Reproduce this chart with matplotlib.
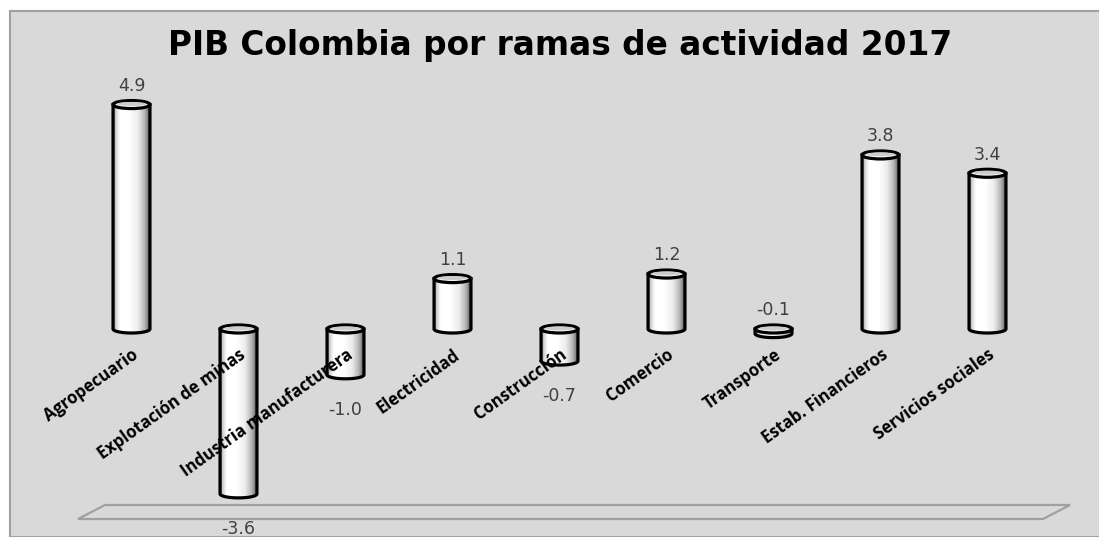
import numpy as np
import matplotlib
matplotlib.use("Agg")
import matplotlib.pyplot as plt
from matplotlib.path import Path
from matplotlib.patches import PathPatch, Ellipse, Rectangle, Polygon
from matplotlib.colors import LinearSegmentedColormap

# ---- data ----
categories = ["Agropecuario", "Explotación de minas", "Industria manufacturera",
              "Electricidad", "Construcción", "Comercio", "Transporte",
              "Estab. Financieros", "Servicios sociales"]
values = [4.9, -3.6, -1.0, 1.1, -0.7, 1.2, -0.1, 3.8, 3.4]
title = "PIB Colombia por ramas de actividad 2017"

# ---- layout (pixels) ----
W, H = 1099, 537
fig = plt.figure(figsize=(W / 100, H / 100), dpi=100)
fig.patch.set_facecolor("white")

# gray chart panel
panel = Rectangle((10 / W, 0), 1.2, (H - 11) / H, transform=fig.transFigure,
                  facecolor="#d9d9d9", edgecolor="#a0a0a0", lw=1.5, zorder=-3)
fig.patches.append(panel)

# floor parallelogram
floor_px = [(78, 519), (105, 505), (1070, 505), (1043, 519)]
floor = Polygon([(x / W, 1 - y / H) for x, y in floor_px], closed=True,
                transform=fig.transFigure, facecolor="#d9d9d9",
                edgecolor="#a0a0a0", lw=1.6, zorder=-2)
fig.patches.append(floor)

ax = fig.add_axes([0, 0, 1, 1])
ax.set_facecolor("none")
x0_px, step_px = 131.5, 107.0
zero_px, unit_px = 329, 45.8
for s in ax.spines.values():
    s.set_visible(False)
ax.spines["bottom"].set_position(("data", 0))
ax.set_yticks([])

cmap = LinearSegmentedColormap.from_list(
    "cyl", [(0, "#6a6a6a"), (0.07, "#cfcfcf"), (0.18, "#ffffff"), (0.45, "#ffffff"),
            (0.68, "#ececec"), (0.86, "#b5b5b5"), (1.0, "#5e5e5e")])
grad = np.linspace(0, 1, 256).reshape(1, -1)

bw = 0.345
eh = 0.175
for i, v in enumerate(values):
    top = max(v, 0)
    bot = min(v, 0)
    xl, xr = i - bw / 2, i + bw / 2
    t = np.linspace(np.pi, 2 * np.pi, 40)
    arc = np.column_stack([i + bw / 2 * np.cos(t), bot + eh / 2 * np.sin(t)])
    verts = np.vstack([[xl, top], [xl, bot], arc, [xr, bot], [xr, top], [xl, top]])
    codes = [Path.MOVETO] + [Path.LINETO] * (len(verts) - 2) + [Path.CLOSEPOLY]
    body = Path(verts, codes)
    clip = PathPatch(body, transform=ax.transData, facecolor="none", edgecolor="none")
    ax.add_patch(clip)
    im = ax.imshow(grad, cmap=cmap, extent=[xl, xr, bot - eh / 2, top],
                   aspect="auto", zorder=2, interpolation="bilinear")
    im.set_clip_path(clip)
    ax.add_patch(PathPatch(body, facecolor="none", edgecolor="black", lw=2.3, zorder=3))
    ax.add_patch(Ellipse((i, top), bw, eh, facecolor="#f4f4f4", edgecolor="black",
                         lw=2.3, zorder=4))
    ax.add_patch(Ellipse((i, top + eh * 0.08), bw * 0.8, eh * 0.5,
                         facecolor="#cdcdcd", edgecolor="none", zorder=4.5))
    if v > -0.5:
        ax.annotate(f"{v:.1f}", (i, top + eh / 2), xytext=(0, 4),
                    textcoords="offset points", ha="center", va="bottom",
                    fontsize=12.5, color="#404040", family="DejaVu Sans")
    else:
        ax.annotate(f"{v:.1f}", (i, bot - eh / 2), xytext=(0, -16),
                    textcoords="offset points", ha="center", va="top",
                    fontsize=12.5, color="#404040", family="DejaVu Sans")

ax.set_xlim(-x0_px / step_px, (W - x0_px) / step_px)
ax.set_ylim((zero_px - H) / unit_px, zero_px / unit_px)

ax.set_xticks(range(len(categories)))
ax.set_xticklabels(categories, rotation=35.5, ha="right", rotation_mode="anchor",
                   fontsize=12, fontweight="bold", family="Open Sans")
ax.tick_params(axis="x", length=0, pad=12)
ax.xaxis.set_zorder(10)

fig.text(560 / W, 1 - 55 / H, title, ha="center", va="baseline", fontsize=23.6,
         fontweight="bold", family="DejaVu Sans", color="black")

fig.savefig("out.png", dpi=100)
